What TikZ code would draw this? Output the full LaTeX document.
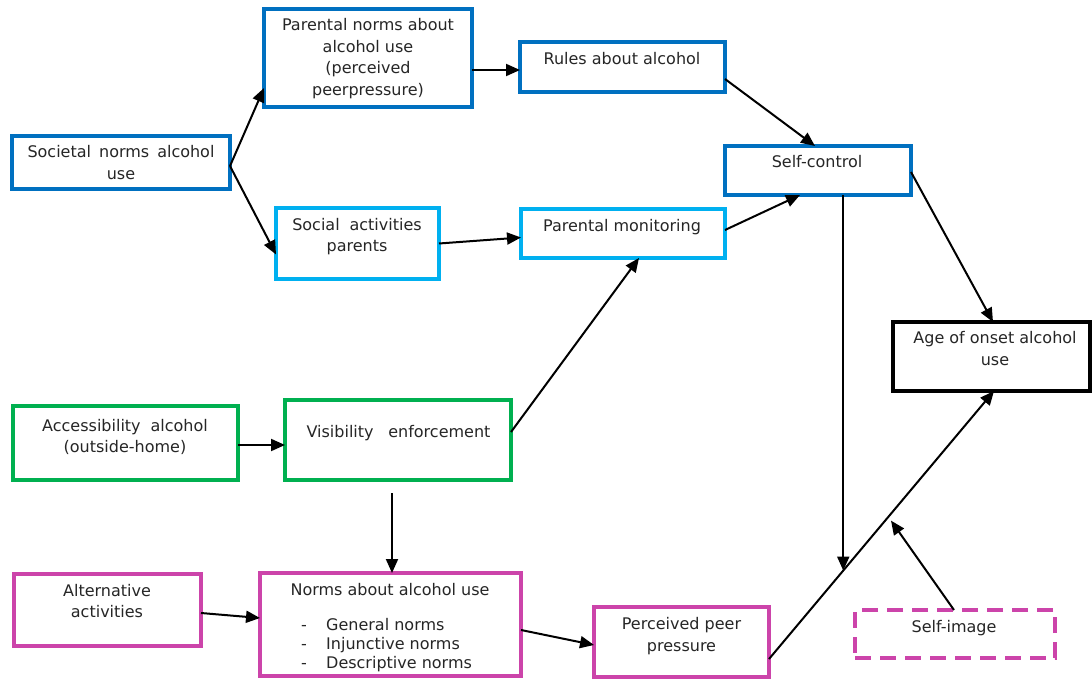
\documentclass[tikz,border=0pt]{standalone}
\usepackage{fontspec}
\setmainfont{DejaVu Sans}
\usetikzlibrary{calc,arrows.meta}
\definecolor{dblue}{RGB}{0,112,192}
\definecolor{lblue}{RGB}{0,176,240}
\definecolor{dgreen}{RGB}{0,176,80}
\definecolor{mag}{RGB}{204,68,170}
\tikzset{
  bx/.style={draw=#1, line width=3.5pt, fill=white, rectangle, inner sep=0pt, outer sep=0pt, anchor=north west},
  tx/.style={font=\fontsize{16}{21.5}\selectfont, align=center, inner sep=0pt, anchor=north, text=black!85},
  arr/.style={line width=2pt, -{Triangle[length=14pt,width=12pt]}}
}
\begin{document}
\begin{tikzpicture}[x=1pt,y=-1pt]
\useasboundingbox (0,0) rectangle (1092,679);
% boxes
\node[bx=dblue, minimum width=218, minimum height=53] (soc) at (12,136) {};
\node[bx=dblue, minimum width=208, minimum height=98] (pn) at (264,9) {};
\node[bx=dblue, minimum width=205, minimum height=50] (rules) at (520,42) {};
\node[bx=dblue, minimum width=186, minimum height=49] (sc) at (725,146) {};
\node[bx=lblue, minimum width=163, minimum height=71] (sa) at (276,208) {};
\node[bx=lblue, minimum width=204, minimum height=49] (pm) at (521,209) {};
\node[bx=black, minimum width=197, minimum height=69] (age) at (893,322) {};
\node[bx=dgreen, minimum width=225, minimum height=74] (acc) at (13,406) {};
\node[bx=dgreen, minimum width=226, minimum height=80] (vis) at (285,400) {};
\node[bx=mag, minimum width=187, minimum height=72] (alt) at (14,574) {};
\node[bx=mag, minimum width=261, minimum height=103] (nrm) at (260,573) {};
\node[bx=mag, minimum width=175, minimum height=70] (ppp) at (594,607) {};
\node[bx=mag, dash pattern=on 16pt off 9pt, minimum width=200, minimum height=48] (si) at (855,610) {};
% texts
\node[tx] (socT) at (121,145.5) {Societal\hspace{0.5em}norms\hspace{0.5em}alcohol\\use};
\node[tx] (pnT) at (368,18.5) {Parental norms about\\alcohol use\\(perceived\\peerpressure)};
\node[tx] (rulesT) at (622,52.5) {Rules about alcohol};
\node[tx] (scT) at (817,155) {Self-control};
\node[tx] (saT) at (357,218) {Social\hspace{0.3em} activities\\parents};
\node[tx] (pmT) at (622,219.5) {Parental monitoring};
\node[tx] (ageT) at (995,331.5) {Age of onset alcohol\\use};
\node[tx] (accT) at (125,419) {Accessibility\hspace{0.3em} alcohol\\(outside-home)};
\node[tx] (visT) at (398.5,425) {Visibility\hspace{0.6em} enforcement};
\node[tx] (altT) at (107,584) {Alternative\\activities};
\node[tx] (nrmT) at (390,583.5) {Norms about alcohol use};
\node[tx, anchor=north west, align=left, font=\fontsize{16}{18.8}\selectfont] (nrmL) at (301,618.5)
  {\makebox[25pt][l]{-}General norms\\\makebox[25pt][l]{-}Injunctive norms\\\makebox[25pt][l]{-}Descriptive norms};
\node[tx] (pppT) at (681.5,617.5) {Perceived peer\\pressure};
\node[tx] (siT) at (954,620) {Self-image};
% connectors
\draw[arr] ($(soc.east)+(0,3.5)$) -- ($(pn.south west)+(0,-19)$);
\draw[arr] ($(soc.east)+(0,3.5)$) -- ($(sa.west)+(0,11)$);
\draw[arr] ($(pn.east |- rules.west)+(0,3)$) -- ($(rules.west)+(0,3)$);
\draw[arr] ($(rules.east)+(0,12)$) -- ($(sc.north)+(-3,0)$);
\draw[arr] (sa.east) -- ($(pm.west)+(0,4)$);
\draw[arr] ($(pm.east)+(0,-3.5)$) -- ($(sc.south)+(-18,0)$);
\draw[arr] ($(vis.east)+(0,-8)$) -- ($(pm.south)+(16,0)$);
\draw[arr] ($(acc.east)+(0,2)$) -- ($(acc.east -| vis.west)+(0,2)$);
\coordinate (vd) at ($(vis.south)+(-6,13)$);
\draw[arr] (vd) -- (vd |- nrm.north);
\draw[arr] ($(alt.east)+(0,3)$) -- ($(nrm.west)+(0,-6.5)$);
\draw[arr] ($(nrm.east)+(0,5.5)$) -- ($(ppp.west)+(0,3)$);
\coordinate (d0) at ($(ppp.east)+(0,17)$);
\coordinate (d1) at ($(age.south)+(2.5,0)$);
\draw[arr] (d0) -- (d1);
\coordinate (j) at ($(d0)!0.33!(d1)$);
\draw[arr] (j |- sc.south) -- (j);
\draw[arr] ($(sc.east)+(0,1.5)$) -- ($(age.north)+(1.5,0)$);
\coordinate (k0) at ($(d0)!0.52!(d1)$);
\coordinate (k) at ($(k0)+(5,1)$);
\draw[arr] ($(si.north)+(-1,0)$) -- (k);
\end{tikzpicture}
\end{document}
